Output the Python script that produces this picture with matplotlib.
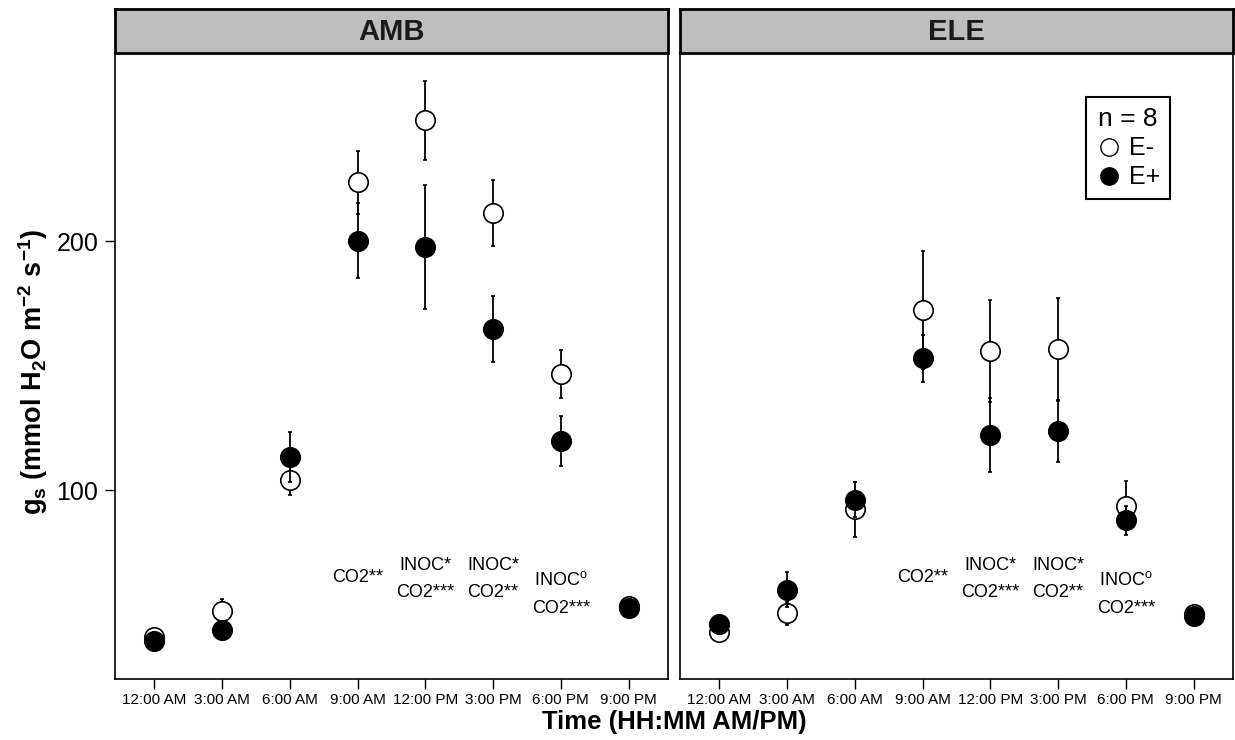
import matplotlib
matplotlib.use('Agg')
import matplotlib.pyplot as plt
from matplotlib.lines import Line2D

plt.rcParams['font.family'] = ['Liberation Sans', 'DejaVu Sans']
plt.rcParams['mathtext.fontset'] = 'custom'
plt.rcParams['mathtext.rm'] = 'Liberation Sans'
plt.rcParams['mathtext.bf'] = 'Liberation Sans:bold'
plt.rcParams['mathtext.it'] = 'Liberation Sans:italic'
plt.rcParams['mathtext.default'] = 'regular'

# time of day (hours) and tick labels
hours = [0, 3, 6, 9, 12, 15, 18, 21]
time_labels = ['12:00 AM', '3:00 AM', '6:00 AM', '9:00 AM',
               '12:00 PM', '3:00 PM', '6:00 PM', '9:00 PM']
panels = ['AMB', 'ELE']

# stomatal conductance, mean and SE (E- = open, E+ = filled)
amb_neg = [41.0, 51.7, 104.1, 223.7, 248.5, 211.4, 146.8, 53.5]
amb_neg_se = [1.0, 4.7, 6.0, 12.6, 15.7, 13.3, 9.6, 1.0]
amb_pos = [39.5, 44.1, 113.3, 200.2, 197.7, 164.9, 119.9, 53.0]
amb_pos_se = [1.0, 1.0, 10.0, 15.0, 24.8, 13.3, 10.0, 1.5]

ele_neg = [43.2, 50.7, 92.4, 172.3, 155.9, 156.8, 93.9, 50.5]
ele_neg_se = [1.0, 4.7, 11.0, 23.7, 20.4, 20.5, 9.9, 1.0]
ele_pos = [46.4, 60.2, 96.2, 153.0, 122.3, 123.7, 88.0, 49.5]
ele_pos_se = [1.5, 7.1, 7.0, 9.4, 14.8, 12.3, 5.7, 1.0]

# significance labels per time point
sig_hours = [9, 12, 15, 18]
sig_top = ['', 'INOC*', 'INOC*', 'INOC$^{o}$']
sig_bottom = ['CO2**', 'CO2***', 'CO2**', 'CO2***']

fig = plt.figure(figsize=(12.35, 7.40), dpi=100)
ax_l = fig.add_axes([0.0931, 0.0824, 0.4478, 0.846])
ax_r = fig.add_axes([0.5506, 0.0824, 0.4478, 0.846])

data = [(amb_neg, amb_neg_se, amb_pos, amb_pos_se),
        (ele_neg, ele_neg_se, ele_pos, ele_pos_se)]

for ax, name, (neg, neg_se, pos, pos_se) in zip([ax_l, ax_r], panels, data):
    ax.errorbar(hours, neg, yerr=neg_se, fmt='o', ms=14, mfc='white', mec='black',
                mew=1.2, ecolor='black', elinewidth=1.3, capsize=1.5, capthick=1.0, zorder=3)
    ax.errorbar(hours, pos, yerr=pos_se, fmt='o', ms=14, mfc='black', mec='black',
                mew=1.2, ecolor='black', elinewidth=1.3, capsize=1.5, capthick=1.0, zorder=4)

    # significance text
    for h, top, bottom in zip(sig_hours, sig_top, sig_bottom):
        if top == '':
            ax.text(h, 65.0, bottom, ha='center', va='center', fontsize=13)
        elif h == 18:
            ax.text(h, 64.0, top, ha='center', va='center', fontsize=13)
            ax.text(h, 52.6, bottom, ha='center', va='center', fontsize=13)
        else:
            ax.text(h, 70.0, top, ha='center', va='center', fontsize=13)
            ax.text(h, 59.2, bottom, ha='center', va='center', fontsize=13)

    ax.set_xlim(-1.75, 22.75)
    ax.set_ylim(24.3, 275.6)
    ax.set_xticks(hours)
    ax.set_xticklabels(time_labels)
    ax.set_yticks([100, 200])
    ax.tick_params(axis='x', direction='out', length=7, width=1, labelsize=11, pad=3)
    ax.tick_params(axis='y', direction='out', length=7, width=1, labelsize=18, pad=5)
    for sp in ax.spines.values():
        sp.set_linewidth(1.2)
        sp.set_color('black')

    # facet strip
    pos_ax = ax.get_position()
    sax = fig.add_axes([pos_ax.x0, 0.9284, pos_ax.width, 0.0589])
    sax.set_facecolor('#bebebe')
    sax.set_xticks([])
    sax.set_yticks([])
    for sp in sax.spines.values():
        sp.set_linewidth(2)
        sp.set_color('black')
    sax.text(0.5, 0.47, name, ha='center', va='center', fontsize=21,
             fontweight='bold', color='#1a1a1a', transform=sax.transAxes)

ax_r.tick_params(axis='y', left=False, labelleft=False)

handles = [Line2D([], [], ls='none', marker='o', ms=12.5, mfc='white', mec='black', mew=1.0),
           Line2D([], [], ls='none', marker='o', ms=12.5, mfc='black', mec='black')]
leg = ax_r.legend(handles, ['E-', 'E+'], title='n = 8', loc='upper right',
                  bbox_to_anchor=(0.886, 0.929), fontsize=18, title_fontsize=19,
                  frameon=True, fancybox=False, edgecolor='black', framealpha=1,
                  handlelength=1.0, handletextpad=0.3, borderpad=0.4,
                  labelspacing=0.2, borderaxespad=0)
leg.get_frame().set_linewidth(1.5)
leg.get_title().set_ha('right')

fig.text(0.027, 0.497, r'g$_s$ (mmol H$_2$O m$^{-2}$ s$^{-1}$)', rotation=90,
         ha='center', va='center', fontsize=19.5, fontweight='bold')
fig.text(0.5457, 0.024, 'Time (HH:MM AM/PM)', ha='center', va='center',
         fontsize=18.5, fontweight='bold')

fig.savefig('out.png', dpi=100)
